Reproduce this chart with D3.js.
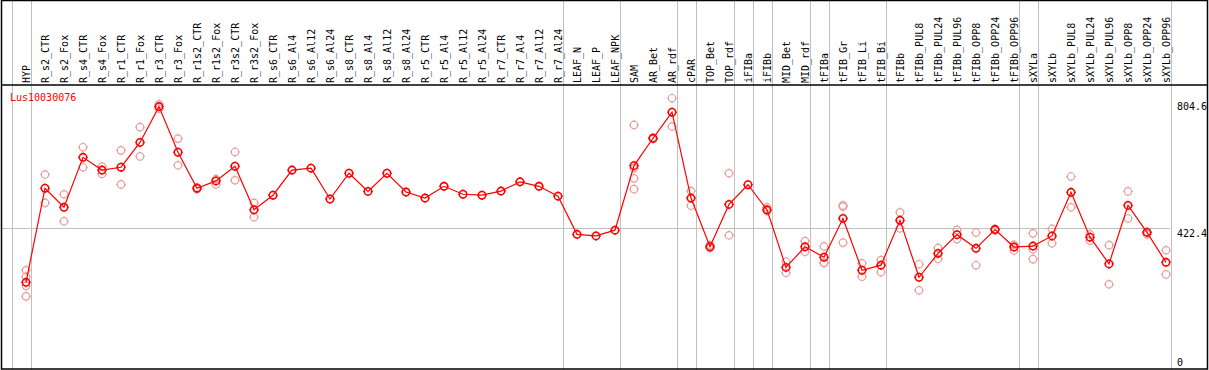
<!DOCTYPE html>
<html><head><meta charset="utf-8">
<script src="https://cdn.jsdelivr.net/npm/d3@7"></script>
<style>body{margin:0;background:#fff}svg{display:block}text{font-family:"DejaVu Sans Mono","Liberation Mono",monospace;font-size:10px}</style>
</head><body><svg id="c" width="1209" height="370"></svg>
<script>
const geneName = "Lus10030076";
const categories = ["HYP","R_s2_CTR","R_s2_Fox","R_s4_CTR","R_s4_Fox","R_r1_CTR","R_r1_Fox","R_r3_CTR","R_r3_Fox","R_r1s2_CTR","R_r1s2_Fox","R_r3s2_CTR","R_r3s2_Fox","R_s6_CTR","R_s6_Al4","R_s6_Al12","R_s6_Al24","R_s8_CTR","R_s8_Al4","R_s8_Al12","R_s8_Al24","R_r5_CTR","R_r5_Al4","R_r5_Al12","R_r5_Al24","R_r7_CTR","R_r7_Al4","R_r7_Al12","R_r7_Al24","LEAF_N","LEAF_P","LEAF_NPK","SAM","AR_Bet","AR_rdf","cPAR","TOP_Bet","TOP_rdf","iFIBa","iFIBb","MID_Bet","MID_rdf","tFIBa","tFIB_Gr","tFIB_Li","tFIB_Bi","tFIBb","tFIBb_PUL8","tFIBb_PUL24","tFIBb_PUL96","tFIBb_OPP8","tFIBb_OPP24","tFIBb_OPP96","sXYLa","sXYLb","sXYLb_PUL8","sXYLb_PUL24","sXYLb_PUL96","sXYLb_OPP8","sXYLb_OPP24","sXYLb_OPP96"];
const means = [252,548,488,645,605,614,692,804.6,661,548,571,617,480,526,605,611,514,595,538,595,536,517,554,529,526,539,568,554,523,403,398,416,619,705,787,517,364,497,559,480,299,364,331,453,290,306,447,268,343,402,359,418,363,366,398,535,394,310,494,409,315];
const replicates = [[290,270,241,208],[591,502],[529,444],[677,614],[616,593],[667,560],[740,648],[812,798],[704,620],[551,545],[577,560],[662,573],[502,457],[],[],[],[],[],[],[],[],[],[],[],[],[],[],[],[],[],[],[],[747,611,579,545],[707,703],[831,742],[539,493],[369,360],[595,400],[],[488,476],[317,282],[382,348],[365,314,313],[494,490,377],[312,270],[322,284],[472,422],[309,227],[360,326],[417,388],[409,306],[420,415],[370,352],[406,356,325],[420,375],[585,488],[403,383],[369,246],[538,453],[411,403],[353,277]];
const separatorsAfter = ["HYP","R_r7_Al24","LEAF_NPK","AR_rdf","cPAR","TOP_rdf","iFIBa","iFIBb","MID_rdf","tFIBa","tFIB_Bi","tFIBb_OPP96","sXYLa","sXYLb_OPP96"];
const yLabels = [0, 422.4, 804.6];
const gridValue = 422.4;
const yMax = 804.6;

const svg = d3.select("#c");
const W = 1209, H = 370;
const x = d3.scalePoint().domain(categories).range([26, 1166]);
const step = x.step();
const y = d3.scaleLinear().domain([0, yMax]).range([362.5, 106.6]);
const RED = "#ff0000", PINK = "#ec9c9c", GRID = "#c0c0c0";

// vertical separators
const sepX = [x(categories[0]) - step + 5].concat(separatorsAfter.map(c => x(c) + 5));
svg.selectAll("line.sep").data(sepX).join("line").attr("class","sep")
  .attr("x1", d => Math.round(d) + 0.5).attr("x2", d => Math.round(d) + 0.5)
  .attr("y1", 0).attr("y2", H).attr("stroke", GRID).attr("stroke-width", 1);

// horizontal grid
svg.append("line").attr("x1", 1).attr("x2", 1170).attr("y1", Math.round(y(gridValue)) + 0.5).attr("y2", Math.round(y(gridValue)) + 0.5)
  .attr("stroke", GRID);

// header line and border
svg.append("line").attr("x1", 1).attr("x2", 1208).attr("y1", 85).attr("y2", 85).attr("stroke", "#000").attr("stroke-width", 1.5);
svg.append("rect").attr("x", 1.5).attr("y", 0.5).attr("width", 1206).attr("height", 368.5).attr("fill", "none").attr("stroke", "#000").attr("stroke-width", 1.5);

// category labels
svg.selectAll("text.cat").data(categories).join("text").attr("class","cat")
  .attr("transform", d => `translate(${x(d) + 3.5},83) rotate(-90)`)
  .attr("text-anchor", "start").attr("fill", "#000").text(d => d);

// gene name
svg.append("text").attr("x", 10).attr("y", 101).attr("fill", RED).text(geneName);

// y labels
svg.selectAll("text.yl").data(yLabels).join("text").attr("class","yl")
  .attr("x", 1177).attr("y", d => y(d))
  .attr("dy", d => d === gridValue ? "0.85em" : "0.35em")
  .attr("fill", "#000").text(d => d);

function marker(g, cx, cy, color, sw) {
  g.append("circle").attr("cx", cx).attr("cy", cy).attr("r", 3.7).attr("fill", "none").attr("stroke", color).attr("stroke-width", sw);
  const r0 = 3.7, r1 = 4.9;
  [[0,-1],[0,1],[-1,0],[1,0]].forEach(([dx,dy]) => {
    g.append("line").attr("x1", cx + dx*r0).attr("y1", cy + dy*r0).attr("x2", cx + dx*r1).attr("y2", cy + dy*r1)
      .attr("stroke", color).attr("stroke-width", 1);
  });
}

// replicates
const repG = svg.append("g");
categories.forEach((c, i) => replicates[i].forEach(v => marker(repG, x(c), y(v), PINK, 1.2)));

// mean line
svg.append("path").datum(means)
  .attr("d", d3.line().x((d, i) => x(categories[i])).y(d => y(d)))
  .attr("fill", "none").attr("stroke", RED).attr("stroke-width", 1.2);

const meanG = svg.append("g");
categories.forEach((c, i) => marker(meanG, x(c), y(means[i]), RED, 1.6));
</script></body></html>
